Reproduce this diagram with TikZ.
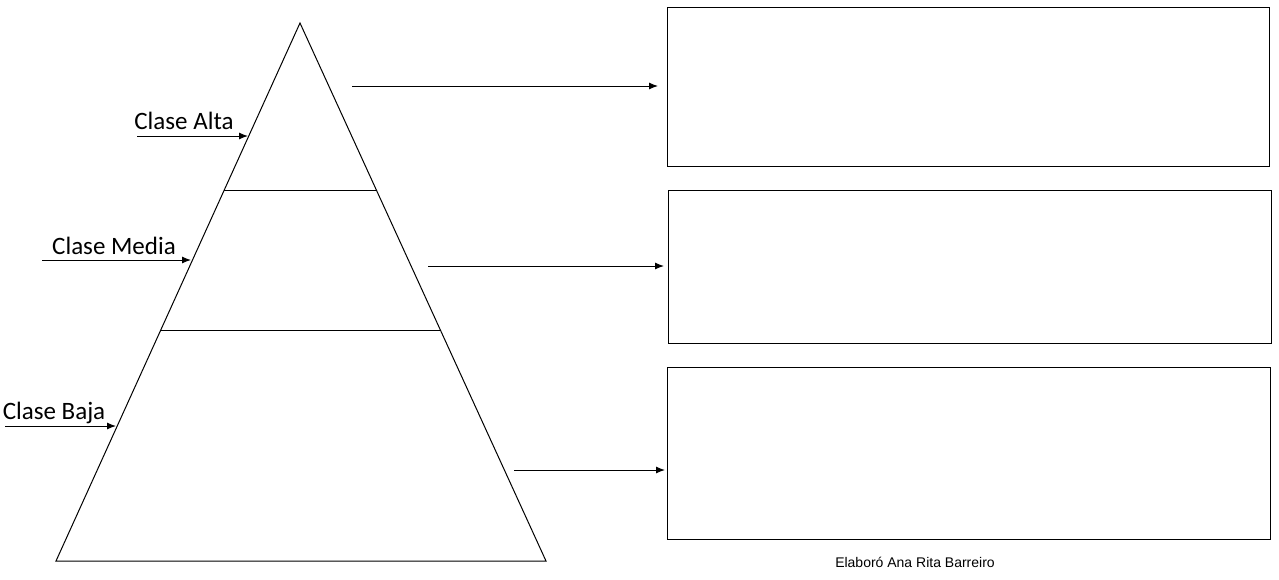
\documentclass[tikz,border=0pt]{standalone}
\usepackage{fontspec}
\setmainfont{Carlito}
\newfontfamily\capfont{Liberation Sans}
\usetikzlibrary{arrows.meta}
\begin{document}
\begin{tikzpicture}[x=1pt,y=-1pt,
  line/.style={draw=black,line width=1pt},
  arr/.style={line,-{Latex[length=9pt,width=7pt]}},
  box/.style={line,fill=white},
  lbl/.style={font=\fontsize{25}{27}\selectfont,inner sep=0pt,anchor=base}]
\useasboundingbox (0,0) rectangle (1279,579);
% triangle
\coordinate (apex) at (300,23);
\coordinate (bl) at (56,561);
\coordinate (br) at (546,561);
\draw[line] (apex) -- (bl) -- (br) -- cycle;
\coordinate (l1a) at (224.3,190); \coordinate (l1b) at (376.4,190);
\coordinate (l2a) at (160.8,330); \coordinate (l2b) at (440.4,330);
\draw[line] (l1a) -- (l1b);
\draw[line] (l2a) -- (l2b);
% boxes
\draw[box] (667,7) rectangle (1269,166);
\draw[box] (668,190) rectangle (1271,343);
\draw[box] (667,367) rectangle (1270,539);
% right arrows
\coordinate (r1s) at (352,86);  \coordinate (r1e) at (658,86);
\coordinate (r2s) at (428,266); \coordinate (r2e) at (664,266);
\coordinate (r3s) at (514,470); \coordinate (r3e) at (665,470);
\draw[arr] (r1s) -- (r1e);
\draw[arr] (r2s) -- (r2e);
\draw[arr] (r3s) -- (r3e);
% left labels and arrows
\node[lbl] (alta) at (184,129) {Clase Alta};
\node[lbl] (media) at (114,254) {Clase Media};
\node[lbl] (baja) at (54,419) {Clase Baja};
\coordinate (a1s) at (137,136); \coordinate (a1e) at (248,136);
\coordinate (a2s) at (42,260);  \coordinate (a2e) at (191,260);
\coordinate (a3s) at (5,426);   \coordinate (a3e) at (116,426);
\draw[arr] (a1s) -- (a1e);
\draw[arr] (a2s) -- (a2e);
\draw[arr] (a3s) -- (a3e);
% caption
\node[font=\capfont\fontsize{14}{16}\selectfont,inner sep=0pt,anchor=base] (cap) at (915,567) {Elaboró Ana Rita Barreiro};
\end{tikzpicture}
\end{document}
